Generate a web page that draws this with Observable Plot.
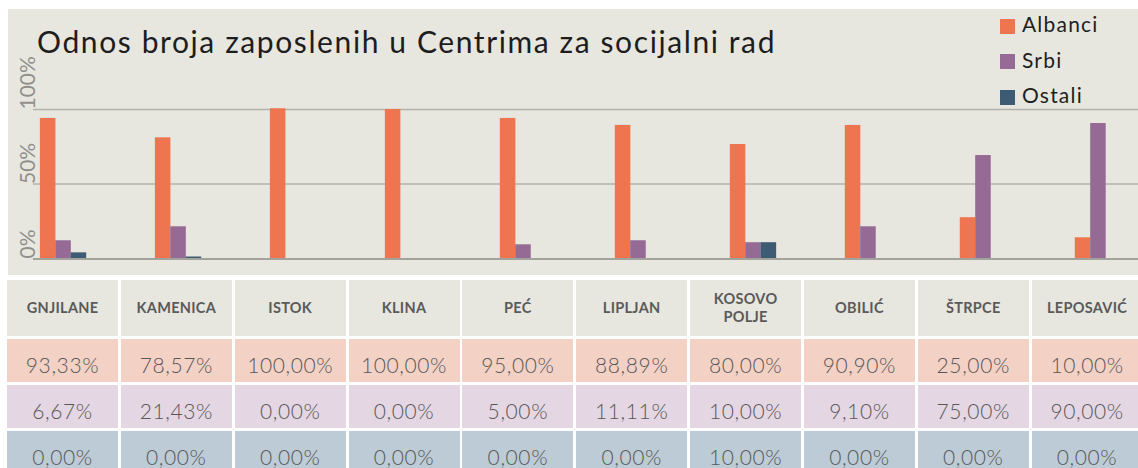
<!DOCTYPE html>
<html>
<head>
<meta charset="utf-8">
<script src="https://cdn.jsdelivr.net/npm/d3@7"></script>
<script src="https://cdn.jsdelivr.net/npm/@observablehq/plot@0.6"></script>
<style>
html, body { margin: 0; padding: 0; background: #ffffff; width: 1138px; height: 468px; overflow: hidden; font-family: Lato, "Open Sans", sans-serif; }
#panel { position: absolute; left: 8px; top: 9px; width: 1130px; height: 266px; background: #e7e6df; }
#chart { position: absolute; left: 7px; top: 9px; }
#title { position: absolute; left: 37px; top: 26px; font-size: 30px; line-height: 30px; letter-spacing: 1.6px; color: #1d1d1d; font-weight: 400; white-space: nowrap; }
.leg { position: absolute; left: 1000px; height: 20px; display: flex; align-items: center; font-size: 21px; line-height: 20px; letter-spacing: 1.2px; color: #1f1f1f; white-space: nowrap; }
.sw { width: 15px; height: 15px; margin-right: 7px; position: relative; top: 2px; }
#table { position: absolute; left: 7px; top: 280px; display: grid; grid-template-columns: repeat(10, 111px); grid-template-rows: 56px 43px 43px 43px; column-gap: 2.85px; row-gap: 3px; }
.cell { display: flex; align-items: center; justify-content: center; text-align: center; box-sizing: border-box; }
.hdr { background: #e7e6df; color: #5a5a5a; font-weight: 700; font-size: 14.5px; line-height: 18px; letter-spacing: 0.3px; padding: 0 14px; }
.val { font-size: 21px; color: #585858; font-weight: 300; letter-spacing: 0.6px; padding-top: 8px; }
.r1 { background: #f4d1c5; }
.r2 { background: #e4d6e3; }
.r3 { background: #bccbd5; }
</style>
</head>
<body>
<div id="panel"></div>
<div id="chart"></div>
<div id="title"></div>
<div id="legend"></div>
<div id="table"></div>
<script>
// ---- data ----
const titleText = "Odnos broja zaposlenih u Centrima za socijalni rad";
const categories = ["GNJILANE", "KAMENICA", "ISTOK", "KLINA", "PEĆ", "LIPLJAN", "KOSOVO POLJE", "OBILIĆ", "ŠTRPCE", "LEPOSAVIĆ"];
const series = ["Albanci", "Srbi", "Ostali"];
const colors = ["#ef7550", "#956b96", "#3e5b74"];
// bar heights as drawn in the picture (percent)
const barAlbanci = [94, 81, 100.5, 100, 94, 89.3, 76.5, 89.3, 27.4, 13.9];
const barSrbi    = [11.9, 21.3, 0, 0, 9.2, 11.9, 10.6, 21.3, 69.1, 90.6];
const barOstali  = [3.8, 1, 0, 0, 0, 0, 10.6, 0, 0, 0];
// table values as printed
const tableAlbanci = ["93,33%", "78,57%", "100,00%", "100,00%", "95,00%", "88,89%", "80,00%", "90,90%", "25,00%", "10,00%"];
const tableSrbi    = ["6,67%", "21,43%", "0,00%", "0,00%", "5,00%", "11,11%", "10,00%", "9,10%", "75,00%", "90,00%"];
const tableOstali  = ["0,00%", "0,00%", "0,00%", "0,00%", "0,00%", "0,00%", "10,00%", "0,00%", "0,00%", "0,00%"];
const yTicks = [0, 50, 100];
const yTickLabels = ["0%", "50%", "100%"];
const gridTicks = [50, 100];

// ---- build ----
const barSeries = [barAlbanci, barSrbi, barOstali];
const rows = [];
categories.forEach((c, i) => series.forEach((s, j) => rows.push({category: c, series: s, value: barSeries[j][i]})));

const chart = Plot.plot({
  width: 1131,
  height: 266,
  marginTop: 100,
  marginBottom: 17,
  marginLeft: 0,
  marginRight: 0,
  style: {background: "transparent", overflow: "visible", fontFamily: "Lato, sans-serif"},
  x: {type: "band", domain: categories, range: [0, 1147], paddingInner: 0.865, paddingOuter: 0.42, round: false, axis: null},
  y: {domain: [0, 100], axis: null},
  color: {domain: series, range: colors},
  marks: [
    Plot.ruleY(gridTicks, {stroke: "#b3b3ad", strokeWidth: 1.5, insetLeft: 26}),
    ...series.map((s, j) => Plot.barY(rows.filter(d => d.series === s), {x: "category", y: "value", fill: "series", dx: (j - 1) * 15.4})),
    Plot.ruleY([0], {stroke: "#a3a39e", strokeWidth: 2, insetLeft: 26, dy: 0.5}),
    Plot.text(yTicks, {y: d => d, text: (d, i) => yTickLabels[i], frameAnchor: "left", rotate: -90, textAnchor: "start", lineAnchor: "middle", dx: 21, fontSize: 21, fill: "#8f8f8b", fontWeight: 400})
  ]
});
document.getElementById("chart").appendChild(chart);

document.getElementById("title").textContent = titleText;

const legend = document.getElementById("legend");
series.forEach((s, j) => {
  const item = document.createElement("div");
  item.className = "leg";
  item.style.top = (14 + j * 35.5) + "px";
  const sw = document.createElement("span");
  sw.className = "sw";
  sw.style.background = colors[j];
  const t = document.createElement("span");
  t.textContent = s;
  item.appendChild(sw);
  item.appendChild(t);
  legend.appendChild(item);
});

const table = document.getElementById("table");
categories.forEach(c => {
  const d = document.createElement("div");
  d.className = "cell hdr";
  d.textContent = c;
  table.appendChild(d);
});
[[tableAlbanci, "r1"], [tableSrbi, "r2"], [tableOstali, "r3"]].forEach(([vals, cls]) => {
  vals.forEach(v => {
    const d = document.createElement("div");
    d.className = "cell val " + cls;
    d.textContent = v;
    table.appendChild(d);
  });
});
</script>
</body>
</html>
